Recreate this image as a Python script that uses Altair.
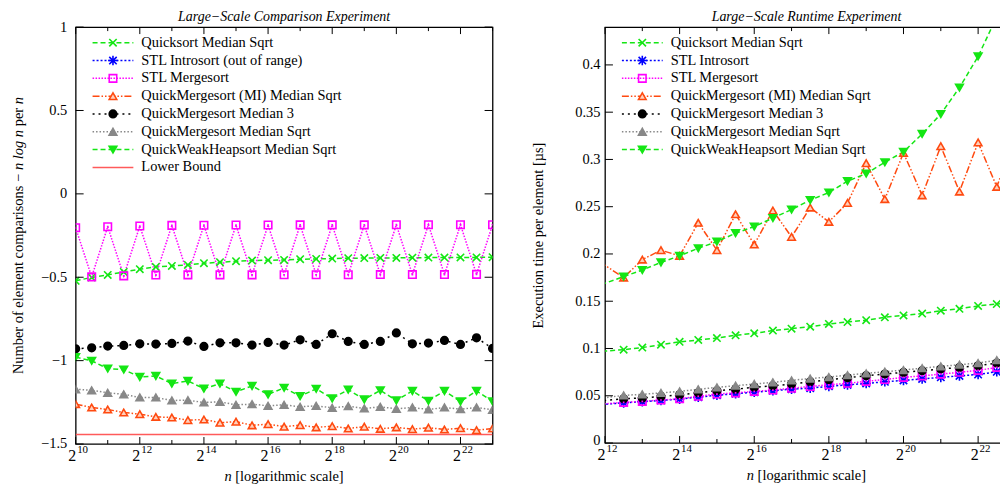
import altair as alt
import pandas as pd

FONT = "Liberation Serif"

# ---------------- data ----------------
LEFT_EXP = [10, 10.5, 11, 11.5, 12, 12.5, 13, 13.5, 14, 14.5, 15, 15.5, 16, 16.5,
            17, 17.5, 18, 18.5, 19, 19.5, 20, 20.5, 21, 21.5, 22, 22.5, 23]
L_QS = [-0.521, -0.501, -0.486, -0.468, -0.452, -0.438, -0.432, -0.426, -0.416, -0.410,
        -0.404, -0.400, -0.398, -0.396, -0.392, -0.390, -0.388, -0.386, -0.385, -0.384,
        -0.384, -0.383, -0.382, -0.382, -0.381, -0.381, -0.380]
L_MERGE = [-0.203, -0.498, -0.197, -0.492, -0.193, -0.487, -0.189, -0.486, -0.188, -0.486,
           -0.187, -0.486, -0.187, -0.485, -0.186, -0.485, -0.186, -0.485, -0.186, -0.484,
           -0.185, -0.484, -0.185, -0.484, -0.185, -0.483, -0.185]
L_QMMI = [-1.261, -1.281, -1.293, -1.311, -1.321, -1.337, -1.341, -1.357, -1.353, -1.372,
          -1.366, -1.388, -1.381, -1.396, -1.387, -1.400, -1.393, -1.407, -1.396, -1.409,
          -1.400, -1.411, -1.402, -1.413, -1.405, -1.417, -1.407]
L_QM3 = [-0.929, -0.923, -0.913, -0.909, -0.899, -0.901, -0.897, -0.883, -0.915, -0.893,
         -0.893, -0.907, -0.891, -0.907, -0.875, -0.903, -0.839, -0.885, -0.903, -0.885,
         -0.834, -0.899, -0.895, -0.879, -0.903, -0.863, -0.927]
L_QMSQ = [-1.172, -1.178, -1.193, -1.202, -1.221, -1.221, -1.239, -1.237, -1.251, -1.247,
          -1.265, -1.261, -1.271, -1.265, -1.277, -1.271, -1.283, -1.273, -1.287, -1.277,
          -1.289, -1.281, -1.293, -1.281, -1.291, -1.281, -1.295]
L_QWH = [-0.979, -1.001, -1.048, -1.054, -1.098, -1.092, -1.138, -1.122, -1.168, -1.138,
         -1.187, -1.152, -1.203, -1.163, -1.213, -1.169, -1.227, -1.174, -1.233, -1.178,
         -1.239, -1.182, -1.241, -1.182, -1.245, -1.182, -1.245]
LOWER_EXP = [10, 23]
LOWER_VAL = [-1.4427, -1.4427]

RIGHT_EXP = [11.5, 12.5, 13, 13.5, 14, 14.5, 15, 15.5, 16, 16.5, 17, 17.5, 18, 18.5,
             19, 19.5, 20, 20.5, 21, 21.5, 22, 22.5, 23]
R_QS = [0.0959, 0.0987, 0.101, 0.104, 0.107, 0.109, 0.111, 0.114, 0.116, 0.119, 0.121,
        0.123, 0.126, 0.128, 0.130, 0.133, 0.135, 0.137, 0.140, 0.142, 0.145, 0.147, 0.149]
R_INTRO = [0.0395, 0.0425, 0.0438, 0.045, 0.0465, 0.0485, 0.0505, 0.0522, 0.0538, 0.0553,
           0.057, 0.058, 0.060, 0.0615, 0.063, 0.0648, 0.0662, 0.0678, 0.0695, 0.071,
           0.0725, 0.0754, 0.0765]
R_MERGE = [0.040, 0.043, 0.044, 0.0455, 0.0468, 0.0494, 0.0518, 0.053, 0.0546, 0.056,
           0.058, 0.0598, 0.0616, 0.0632, 0.0652, 0.0672, 0.0694, 0.071, 0.0729, 0.0748,
           0.0768, 0.080, 0.081]
R_QMMI = [0.201, 0.175, 0.194, 0.204, 0.198, 0.233, 0.204, 0.242, 0.210, 0.246, 0.218,
          0.249, 0.234, 0.254, 0.296, 0.258, 0.307, 0.262, 0.314, 0.266, 0.318, 0.271, 0.325]
R_QM3 = [0.0432, 0.0468, 0.0476, 0.0492, 0.051, 0.0532, 0.0553, 0.057, 0.0589, 0.0605,
         0.0624, 0.0648, 0.0669, 0.069, 0.0712, 0.073, 0.0747, 0.0765, 0.0782, 0.080,
         0.0817, 0.0846, 0.0858]
R_QMSQ = [0.0456, 0.0504, 0.0515, 0.053, 0.0546, 0.0568, 0.0589, 0.0606, 0.0624, 0.0642,
          0.0663, 0.0682, 0.0698, 0.0718, 0.0737, 0.0754, 0.0772, 0.0792, 0.0811, 0.0828,
          0.0846, 0.0877, 0.0895]
R_QWH = [0.162, 0.176, 0.183, 0.191, 0.198, 0.206, 0.213, 0.222, 0.229, 0.238, 0.247,
         0.257, 0.265, 0.277, 0.285, 0.297, 0.308, 0.327, 0.348, 0.376, 0.409, 0.451, 0.50]

SERIES_KEYS = ["qs", "intro", "merge", "qmmi", "qm3", "qmsq", "qwh", "lb"]
LEFT_LABELS = ["Quicksort Median Sqrt", "STL Introsort (out of range)", "STL Mergesort",
               "QuickMergesort (MI) Median Sqrt", "QuickMergesort Median 3",
               "QuickMergesort Median Sqrt", "QuickWeakHeapsort Median Sqrt", "Lower Bound"]
RIGHT_LABELS = ["Quicksort Median Sqrt", "STL Introsort", "STL Mergesort",
                "QuickMergesort (MI) Median Sqrt", "QuickMergesort Median 3",
                "QuickMergesort Median Sqrt", "QuickWeakHeapsort Median Sqrt"]

LEFT_YTICKS = [-1.5, -1, -0.5, 0, 0.5, 1]
RIGHT_YTICKS = [0, 0.05, 0.1, 0.15, 0.2, 0.25, 0.3, 0.35, 0.4]
LEFT_XTICK_EXP = [10, 11, 12, 13, 14, 15, 16, 17, 18, 19, 20, 21, 22, 23]
RIGHT_XTICK_EXP = [12, 13, 14, 15, 16, 17, 18, 19, 20, 21, 22]

LEFT_TITLE = "Large\u2212Scale Comparison Experiment"
RIGHT_TITLE = "Large\u2212Scale Runtime Experiment"
RIGHT_YTITLE = "Execution time per element [\u00b5s]"

# ---------------- styles ----------------
GREEN = "#14e614"
COLORS = [GREEN, "#0000ff", "#ff00ff", "#ff4a10", "#000000", "#888888", GREEN, "#ff5a5a"]
DASHES = [[5, 3], [2, 2], [1.5, 1.5], [7, 2, 1.5, 2, 1.5, 2], [2, 4], [1.5, 2], [5, 3], [1, 0]]
MARKER_KEYS = SERIES_KEYS[:7]
X_PATH = "M-1,-1L1,1M-1,1L1,-1"
STAR_PATH = "M-1,-1L1,1M-1,1L1,-1M0,-1.3L0,1.3M-1.3,0L1.3,0"
SHAPES = [X_PATH, STAR_PATH, "square", "triangle-up", "circle", "triangle-up", "triangle-down"]
FILLS = ["transparent", "transparent", "transparent", "#ffd0bc", "#000000", "#888888", GREEN]
SIZES = [55, 60, 80, 80, 28, 30, 32]

stroke_scale = alt.Scale(domain=SERIES_KEYS, range=COLORS)
dash_scale = alt.Scale(domain=SERIES_KEYS, range=DASHES)
shape_scale = alt.Scale(domain=MARKER_KEYS, range=SHAPES)
fill_scale = alt.Scale(domain=MARKER_KEYS, range=FILLS)
size_scale = alt.Scale(domain=MARKER_KEYS, range=SIZES)


def long_df(exps, series):
    rows = []
    for key, vals in series.items():
        for e, v in zip(exps, vals):
            rows.append({"key": key, "n": 2.0 ** e, "value": v})
    return pd.DataFrame(rows)


def text_layer(txt, x, y, size=14.5, style="normal", align="left", baseline="alphabetic", angle=0):
    return alt.Chart(pd.DataFrame({"t": [txt]})).mark_text(
        font=FONT, fontSize=size, fontStyle=style, align=align, baseline=baseline,
        angle=angle, color="black"
    ).encode(x=alt.value(x), y=alt.value(y), text="t:N")


def panel(df, xexp, ydom, yticks, W, H, tick_exps, keys, labels, title, label_pad,
          ytitle=None, extra=None, flush=False):
    xs = alt.Scale(type="log", base=2, domain=[2.0 ** xexp[0], 2.0 ** xexp[1]], nice=False)
    ys = alt.Scale(domain=ydom, nice=False, zero=False)
    X = alt.X("n:Q", scale=xs, axis=None)
    axis_kw = dict(values=yticks, format="~g", ticks=False, domain=False, grid=False,
                   labelPadding=label_pad, labelFont=FONT, labelFontSize=14.5,
                   labelColor="black")
    if flush:
        axis_kw.update(labelFlush=True, labelFlushOffset=4)
    if ytitle:
        axis_kw.update(title=ytitle, titleX=-66.5, titleY=H / 2, titleBaseline="middle",
                       titleFont=FONT, titleFontSize=14.5, titleFontWeight="normal",
                       titleColor="black", titleAngle=270)
    else:
        axis_kw.update(title=None)
    Y = alt.Y("value:Q", scale=ys, axis=alt.Axis(**axis_kw))
    stroke = alt.Stroke("key:N", scale=stroke_scale, legend=None)
    dash = alt.StrokeDash("key:N", scale=dash_scale, legend=None)
    shape = alt.Shape("key:N", scale=shape_scale, legend=None)
    fill = alt.Fill("key:N", scale=fill_scale, legend=None)
    size = alt.Size("key:N", scale=size_scale, legend=None)

    lines = alt.Chart(df).mark_line(clip=True, strokeWidth=1.5).encode(
        x=X, y=Y, stroke=stroke, strokeDash=dash)
    points = alt.Chart(df).transform_filter("datum.key != 'lb'").mark_point(
        clip=True, opacity=1, strokeWidth=1.6).encode(
        x=X, y=Y, shape=shape, fill=fill, stroke=stroke, size=size)
    dots = alt.Chart(df).transform_filter("datum.key == 'merge'").mark_point(
        clip=True, opacity=1, shape="square", filled=True, size=3, color="#ff00ff").encode(
        x=X, y=Y)

    # ticks (inward, mirrored)
    tdf = pd.DataFrame({"n": [2.0 ** e for e in tick_exps],
                        "major": [e % 2 == 0 for e in tick_exps]})
    tmaj = alt.Chart(tdf).transform_filter("datum.major")
    tmin = alt.Chart(tdf).transform_filter("!datum.major")
    rule = dict(color="black", strokeWidth=1)
    xticks = [
        tmaj.mark_rule(**rule).encode(x=X, y=alt.value(H), y2=alt.value(H - 7)),
        tmaj.mark_rule(**rule).encode(x=X, y=alt.value(0), y2=alt.value(7)),
        tmin.mark_rule(**rule).encode(x=X, y=alt.value(H), y2=alt.value(H - 4)),
        tmin.mark_rule(**rule).encode(x=X, y=alt.value(0), y2=alt.value(4)),
    ]
    ydf = pd.DataFrame({"value": yticks})
    yt = [
        alt.Chart(ydf).mark_rule(**rule).encode(y=Y, x=alt.value(0), x2=alt.value(8)),
        alt.Chart(ydf).mark_rule(**rule).encode(y=Y, x=alt.value(W), x2=alt.value(W - 8)),
    ]
    # x tick labels 2^k
    lab_exps = [e for e in tick_exps if e % 2 == 0]
    ldf = pd.DataFrame({"n": [2.0 ** e for e in lab_exps],
                        "b": ["2" for e in lab_exps],
                        "p": [str(e) for e in lab_exps]})
    xlab = [
        alt.Chart(ldf).mark_text(font=FONT, fontSize=16, align="right", baseline="alphabetic",
                                 dx=0.5, color="black").encode(x=X, y=alt.value(H + 17), text="b:N"),
        alt.Chart(ldf).mark_text(font=FONT, fontSize=11, align="left", baseline="alphabetic",
                                 dx=1.5, color="black").encode(x=X, y=alt.value(H + 9.5), text="p:N"),
    ]
    # legend (sample line + marker + label), rows computed from row index
    upp = (ydom[1] - ydom[0]) / H
    legdf = pd.DataFrame({"key": keys, "label": labels, "row": list(range(len(keys)))})
    leg = alt.Chart(legdf).transform_calculate(
        value=f"{ydom[1]} - (15.7 + 17.9 * datum.row) * {upp}")
    legend = [
        leg.mark_rule(strokeWidth=1.5).encode(x=alt.value(17), x2=alt.value(58), y=Y,
                                               stroke=stroke, strokeDash=dash),
        leg.transform_filter("datum.key != 'lb'").mark_point(opacity=1, strokeWidth=1.6).encode(
            x=alt.value(37.5), y=Y, shape=shape, fill=fill, stroke=stroke, size=size),
        leg.mark_text(font=FONT, fontSize=14.5, align="left", baseline="middle",
                      color="black").encode(x=alt.value(66), y=Y, text="label:N"),
    ]
    # x axis title: italic n + regular rest
    cx = W / 2 - 60
    xtitle = [
        text_layer("n", cx, H + 37, style="italic"),
        text_layer("[logarithmic scale]", cx + 10.9, H + 37),
    ]
    ttl = text_layer(title, W / 2, -6, size=14, style="italic", align="center")
    layers = [lines, points, dots] + xticks + yt + xlab + legend + xtitle + [ttl]
    if extra:
        layers += extra
    return alt.layer(*layers).properties(width=W, height=H)


# left y-axis title with italic parts (rotated, reading upward)
LH = 419
yc = LH / 2
base = yc + 139.2
left_ytitle = [
    text_layer("Number of element comparisons \u2212", -56.7, base, angle=270, baseline="middle"),
    text_layer("n log n", -56.7, base - 205.1, style="italic", angle=270, baseline="middle"),
    text_layer("per", -56.7, base - 205.1 - 40.3 - 3.6, angle=270, baseline="middle"),
    text_layer("n", -56.7, base - 205.1 - 40.3 - 3.6 - 18.5 - 3.6, style="italic",
               angle=270, baseline="middle"),
]

left_df = pd.concat([
    long_df(LEFT_EXP, {"qs": L_QS, "merge": L_MERGE, "qmmi": L_QMMI, "qm3": L_QM3,
                       "qmsq": L_QMSQ, "qwh": L_QWH}),
    long_df(LOWER_EXP, {"lb": LOWER_VAL}),
], ignore_index=True)
right_df = long_df(RIGHT_EXP, {"qs": R_QS, "intro": R_INTRO, "merge": R_MERGE, "qmmi": R_QMMI,
                               "qm3": R_QM3, "qmsq": R_QMSQ, "qwh": R_QWH})

left = panel(left_df, (10, 23), [-1.5, 1], LEFT_YTICKS, 419, LH, LEFT_XTICK_EXP,
             SERIES_KEYS, LEFT_LABELS, LEFT_TITLE, 9, extra=left_ytitle)
right = panel(right_df, (12, 22.8), [0, 0.44], RIGHT_YTICKS, 405, 418, RIGHT_XTICK_EXP,
              SERIES_KEYS[:7], RIGHT_LABELS, RIGHT_TITLE, 5, ytitle=RIGHT_YTITLE, flush=True)

chart = alt.hconcat(left, right, spacing=113, bounds="flush").properties(
    padding={"left": 2, "top": 0, "right": -10, "bottom": 0}, background="white"
).configure_view(stroke="black", strokeWidth=1.3)

chart.save("out.html", embed_options={"renderer": "svg", "actions": False})
